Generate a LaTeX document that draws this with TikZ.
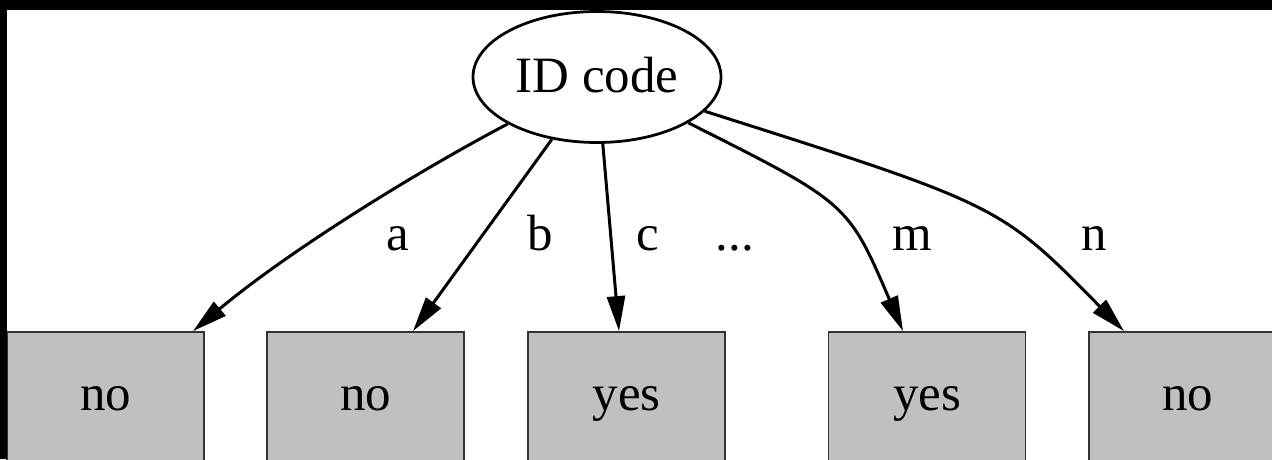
\documentclass[tikz,border=0pt]{standalone}
\usepackage{fontspec}
\setmainfont{Liberation Serif}
\usetikzlibrary{shapes.geometric,arrows.meta}
\definecolor{leafgray}{RGB}{192,192,192}

\begin{document}
\begin{tikzpicture}[
    f/.style={-{Triangle[length=0.7cm,width=0.36cm]},line width=0.06cm},%
    s/.style={draw,ellipse,line width=0.055cm,minimum width=4.96cm,minimum height=2.62cm,inner sep=0pt,text height=0.7cm,text depth=0.1cm},%
    leaf/.style={draw=black!80,fill=leafgray,line width=0.035cm,minimum width=3.94cm,minimum height=2.64cm,inner sep=0pt,text height=0.6cm,text depth=0.12cm},%
    p/.style={anchor=base,inner sep=0pt},
    font=\fontsize{29pt}{34pt}\selectfont]
    \clip (0,0) rectangle (25.44,-9.18);
    \node[s] (ID) at (11.94,-1.54) {ID code} ;
    \node[leaf] (La) at (2.11,-7.96) {no} ;
    \node[leaf] (Lb) at (7.31,-7.96) {no} ;
    \node[leaf] (Lc) at (12.53,-7.96) {yes} ;
    \node[leaf] (Lm) at (18.54,-7.96) {yes} ;
    \node[leaf] (Ln) at (23.75,-7.96) {no} ;
    \draw[f] (ID) .. controls (8.4,-3.4) and (5.8,-5.0) .. ([xshift=1.75cm]La.north) ;
    \draw[f] (ID) -- ([xshift=0.95cm]Lb.north) ;
    \draw[f] (ID) -- ([xshift=-0.15cm]Lc.north) ;
    \draw[f] (ID) .. controls (16.96,-4.06) and (16.96,-4.06) .. ([xshift=-0.48cm]Lm.north) ;
    \draw[f] (ID) .. controls (20.0,-4.1) and (20.0,-4.1) .. ([xshift=-1.27cm]Ln.north) ;
    \node[p] (ta) at (7.96,-5.0) {a} ;
    \node[p] (tb) at (10.8,-5.0) {b} ;
    \node[p] (tc) at (12.96,-5.0) {c} ;
    \node[p] (tdots) at (14.7,-5.0) {...} ;
    \node[p] (tm) at (18.24,-5.0) {m} ;
    \node[p] (tn) at (21.88,-5.0) {n} ;
    % black edges of the crop
    \fill (0,0) rectangle (25.44,-0.2);
    \fill (0,0) rectangle (0.14,-9.18);
\end{tikzpicture}
\end{document}
